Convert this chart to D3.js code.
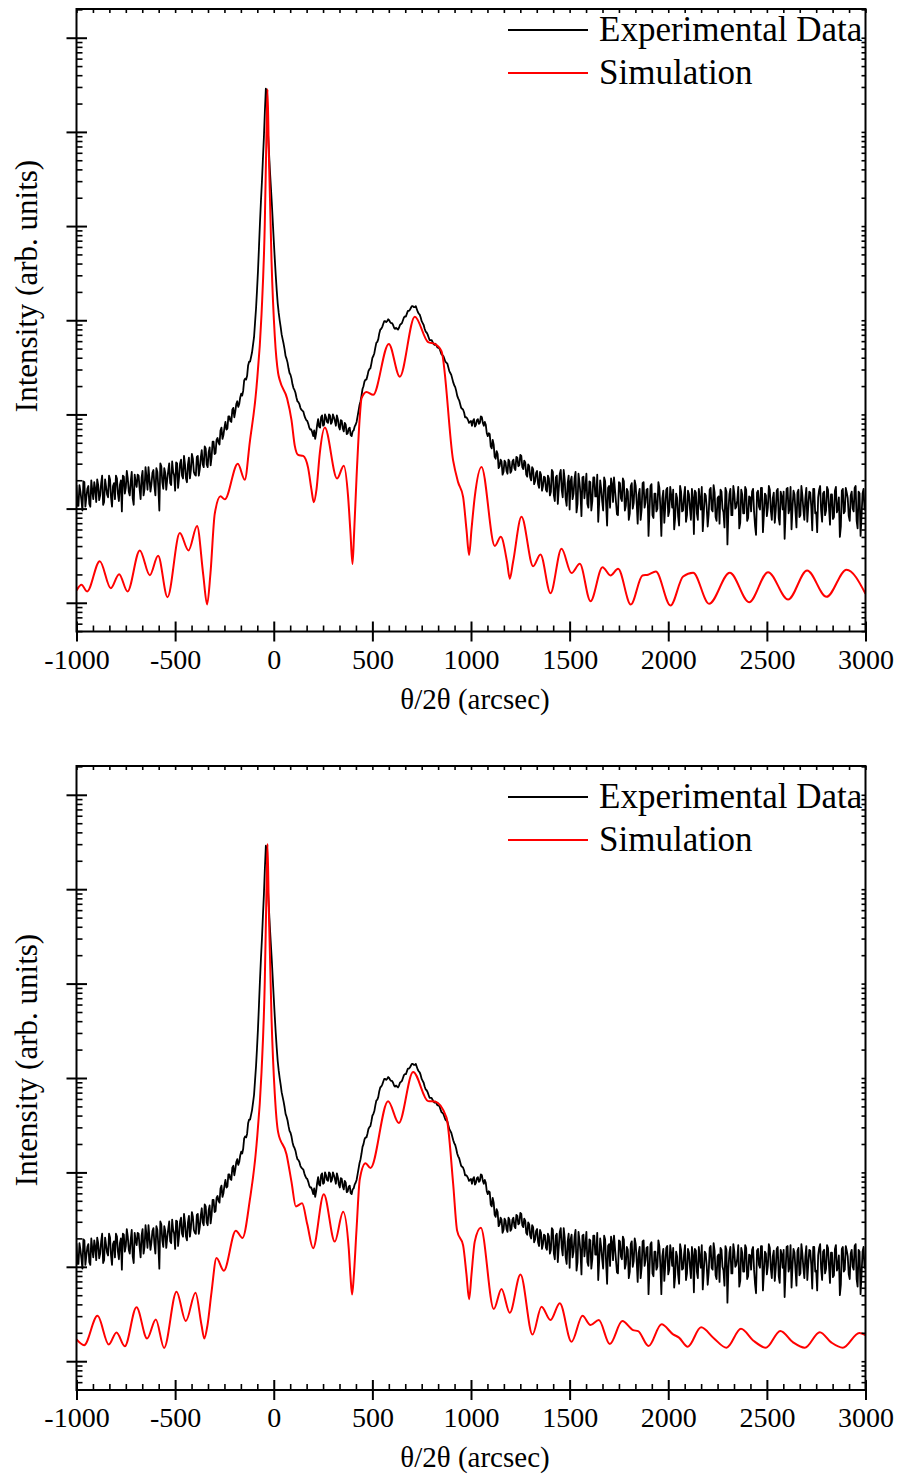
<!DOCTYPE html>
<html>
<head>
<meta charset="utf-8">
<script src="https://cdn.jsdelivr.net/npm/d3@7"></script>
<style>
  body { margin: 0; background: #fff; }
  svg { display: block; }
  text { font-family: "Liberation Serif", "Times New Roman", serif; fill: #000; }
</style>
</head>
<body>
<svg id="chart" width="899" height="1476"></svg>
<script>
// ---------------- data ----------------
const xDomain = [-1000, 3000];
const xMajorTicks = [-1000, -500, 0, 500, 1000, 1500, 2000, 2500, 3000];
const xTickLabels = ["-1000", "-500", "0", "500", "1000", "1500", "2000", "2500", "3000"];
const yDomainLog = [-0.305, 6.305];          // log10(intensity) range shown
const yDecades = [0, 1, 2, 3, 4, 5, 6];
const legendLabels = ["Experimental Data", "Simulation"];
const xTitle = "θ/2θ (arcsec)";
const yTitle = "Intensity (arb. units)";

// experimental data: log10(counts) at -1000, -990, ..., 3000
const expStart = -1000, expStep = 10;
const expLog = [
  1.25,1.03,1.18,0.98,1.28,1.12,1.24,1.02,1.19,1.28,
  1.07,1.25,1.14,1.35,1.07,1.23,1.12,1.31,1.02,1.27,
  1.35,1.16,1.25,0.97,1.34,1.22,1.32,1.14,1.39,1.04,
  1.28,1.36,1.21,1.33,1.14,1.44,1.20,1.31,1.26,1.41,
  1.14,1.39,0.98,1.45,1.21,1.38,1.31,1.48,1.25,1.39,
  1.19,1.48,1.33,1.52,1.32,1.47,1.28,1.54,1.41,1.53,
  1.36,
  1.55,1.35,1.54,1.47,1.66,1.47,1.60,1.46,1.71,1.58,
  1.73,1.70,1.83,1.74,1.86,1.84,1.98,1.93,2.05,1.97,
  2.11,2.08,2.18,2.20,2.36,2.37,2.52,2.56,
  2.66,2.82,3.12,3.52,4.03,4.47,4.94,5.46,5.02,4.61,
  4.25,3.85,3.48,3.18,3.00,2.85,2.75,2.62,2.55,2.44,
  2.38,2.28,2.23,2.14,2.11,2.05,2.03,1.96,1.93,1.86,
  1.84,1.77,
  1.74,1.89,1.87,1.97,1.88,2.00,1.92,2.00,1.90,2.00,
  1.93,1.99,1.87,1.94,1.85,1.91,1.79,1.85,1.78,1.82,
  1.87,1.92,2.04,2.14,2.27,
  2.35,2.37,2.46,2.49,2.60,2.65,2.76,2.80,2.90,2.93,
  2.99,2.98,3.01,2.98,2.97,2.92,2.92,2.90,2.95,2.97,
  3.03,3.04,3.10,3.11,3.15,3.14,3.15,3.09,3.06,2.99,
  2.95,2.88,2.85,2.79,2.79,2.75,2.75,2.71,2.70,2.64,
  2.62,2.56,2.54,2.46,2.42,2.34,2.29,2.20,2.15,2.07,
  2.05,1.97,1.96,1.91,1.93,
  1.93,1.87,1.94,1.90,1.98,1.91,1.92,1.80,1.80,1.66,
  1.73,1.55,1.61,1.43,1.52,1.36,1.51,1.40,1.52,1.38,
  1.50,1.43,1.55,1.45,1.57,1.44,1.51,1.36,1.47,1.33,
  1.44,1.26,1.38,1.26,1.39,1.19,1.34,1.20,1.35,1.14,
  1.41,1.14,1.33,1.05,1.37,1.20,1.41,1.10,1.27,0.99,
  1.34,1.16,1.39,1.05,1.28,0.92,1.34,1.23,1.05,1.29,
  0.98,1.33,1.13,1.36,1.07,1.21,0.98,1.29,0.82,1.24,
  1.32,1.07,1.20,0.94,1.28,1.11,1.32,0.98,1.21,0.88,
  1.24,1.00,1.30,1.06,1.15,0.88,1.27,1.01,1.20,0.71,
  1.24,0.93,1.16,0.97,1.28,1.01,1.11,0.85,1.20,0.92,
  1.23,1.01,0.78,1.16,0.92,1.24,0.97,1.13,0.86,1.19,
  1.00,1.21,0.73,1.17,0.88,1.10,1.23,0.94,1.14,0.81,
  1.20,0.99,1.25,0.91,1.11,0.84,1.18,0.96,1.22,0.62,
  1.15,0.93,1.24,1.00,1.09,0.79,1.20,0.95,1.23,0.87,
  1.13,0.97,1.21,0.82,1.17,1.02,1.22,0.75,1.16,0.92,
  1.24,0.98,1.11,0.85,1.19,0.90,1.18,0.99,0.68,1.21,
  0.95,1.23,1.01,1.15,0.80,1.20,0.93,1.14,0.88,1.22,
  1.03,1.17,0.77,1.21,0.96,1.12,1.24,0.86,1.18,0.98,
  1.20,0.83,1.15,0.91,1.23,1.00,0.70,1.19,0.95,1.22,
  1.11,0.87,1.18,0.97,1.24,0.79,1.16,0.92,1.21,0.99
];
// experimental data: log10(counts) at -995, -985, ..., 2995
const expMidStart = -995;
const expLogMid = [
  1.03,1.25,1.09,1.29,1.02,1.21,1.05,1.30,1.10,1.21,
  1.31,1.09,1.27,1.04,1.31,1.15,1.35,1.12,1.24,1.10,
  1.32,1.08,1.30,1.35,1.16,1.40,1.18,1.29,1.11,1.36,
  1.23,1.35,1.10,1.40,1.21,1.33,1.44,1.18,1.38,1.24,
  1.43,1.22,1.48,1.28,1.43,1.20,1.40,1.27,1.50,1.35,
  1.49,1.22,1.48,1.35,1.56,1.32,1.47,1.32,1.58,1.39,
  1.35,1.56,1.42,1.62,1.44,1.64,1.44,1.65,1.55,1.71,
  1.59,1.75,1.68,1.86,1.78,1.92,1.85,1.98,1.92,2.07,
  2.03,2.14,2.11,2.22,2.25,2.38,2.41,2.56,
  2.61,2.74,2.97,3.31,3.77,4.26,4.71,5.22,5.40,4.82,
  4.43,4.05,3.66,3.32,3.08,2.93,2.80,2.69,2.59,2.49,
  2.42,2.32,2.26,2.18,2.13,2.07,2.04,1.99,1.94,1.90,
  1.84,1.81,
  1.83,1.80,1.95,1.86,1.99,1.89,1.97,1.91,1.99,1.92,
  1.97,1.88,1.95,1.84,1.93,1.82,1.89,1.80,1.86,1.77,
  1.83,1.89,1.98,2.10,2.20,
  2.30,2.37,2.41,2.48,2.54,2.62,2.71,2.77,2.86,2.91,
  2.96,2.99,2.99,3.00,2.97,2.95,2.91,2.91,2.92,2.96,
  3.00,3.04,3.07,3.10,3.13,3.15,3.14,3.12,3.07,3.03,
  2.97,2.91,2.87,2.82,2.79,2.77,2.74,2.73,2.71,2.67,
  2.63,2.59,2.55,2.50,2.44,2.38,2.31,2.25,2.17,2.11,
  2.06,2.02,1.97,1.94,1.92,
  1.88,1.95,1.89,1.95,1.91,1.97,1.88,1.89,1.77,1.79,
  1.64,1.68,1.53,1.58,1.45,1.50,1.39,1.49,1.37,1.50,
  1.40,1.52,1.41,1.54,1.46,1.56,1.42,1.49,1.34,1.45,
  1.30,1.42,1.29,1.40,1.22,1.36,1.24,1.33,1.18,1.32,
  1.18,1.39,1.08,1.35,1.21,1.41,1.12,1.31,1.03,1.35,
  1.29,1.10,1.32,0.96,1.37,1.16,1.33,1.11,1.37,1.01,
  1.28,1.08,1.33,1.13,0.86,1.30,1.08,1.33,1.04,1.22,
  1.01,1.26,1.33,1.07,0.93,1.27,1.08,1.29,1.03,1.18,
  0.95,1.27,1.06,1.24,0.84,1.21,0.99,1.28,1.07,1.21,
  0.98,1.26,0.90,1.16,1.00,1.22,0.71,1.19,1.02,1.22,
  0.97,1.14,1.20,0.90,1.11,0.82,1.18,0.98,1.23,0.93,
  1.15,0.88,1.12,1.19,0.95,1.21,0.99,0.76,1.16,1.01,
  0.94,1.22,0.97,1.17,0.87,1.13,1.20,1.00,0.80,1.18,
  0.98,1.21,0.93,1.16,1.02,1.23,0.85,1.15,0.95,1.20,
  0.90,1.12,1.18,0.97,0.72,1.19,0.99,1.22,0.94,1.14,
  1.01,1.20,0.88,1.17,0.98,1.21,0.83,1.13,1.18,0.96,
  1.22,1.00,0.78,1.19,0.97,1.17,0.91,1.24,0.99,1.11,
  0.86,1.18,1.02,1.21,0.95,0.75,1.20,0.98,1.16,0.93,
  1.23,1.01,1.15,0.89,1.19,0.96,1.12,0.81,1.21,0.97,
  1.17,0.92,1.14,1.00,1.22,0.87,1.18,0.71,1.16,0.99
];

// simulation (top panel): arcsec and log10(counts)
const simTopX = [
  -1000,-974.7,-946.3,-881.9,-826.1,-784.0,-741.4,-679.1,-628.4,-586.3,
  -538.7,-476.3,-432.2,-388.6,-358,-337.9,-321,-299,-269.9,-248.2,
  -182.2,-146.8,-121.4,-87.5,-62.1,-45.4,-36.8,-31.7,-25.1,-11.4,
  5.3,22.1,30.7,67.7,90,106.7,123.4,148.8,174,191,
  203,216.7,233.5,258.8,321.1,355.1,377,389,399.2,407.4,
  419.5,436.3,444.9,470.2,503.7,583.3,639.0,715.1,782.5,816.5,
  850.4,909.3,934.6,959.9,977,990.4,1002.5,1019,1053.2,1120.7,
  1151.1,1183,1196.7,1213,1256.0,1314.8,1352.3,1403.0,1458.8,1509.5,
  1551.6,1605.8,1666.7,1707.2,1745.7,1810.1,1869.4,1897.8,1936.9,2011.4,
  2075.3,2126.0,2207.1,2312.0,2409.9,2506.2,2607.6,2704.0,2802.3,2903.7,
  3000
];
const simTopLog = [
  0.131,0.191,0.120,0.442,0.155,0.304,0.120,0.556,0.293,0.499,
  0.060,0.740,0.556,0.814,0.308,-0.018,0.308,0.946,1.130,1.098,
  1.477,1.307,1.706,2.288,3.058,4.024,4.990,5.454,4.796,3.638,
  2.830,2.440,2.362,2.169,1.940,1.666,1.571,1.559,1.435,1.204,
  1.068,1.204,1.590,1.860,1.319,1.454,1.125,0.740,0.411,0.740,
  1.320,1.976,2.171,2.239,2.208,2.749,2.401,3.038,2.768,2.749,
  2.672,1.512,1.281,1.125,0.779,0.508,0.779,1.125,1.443,0.604,
  0.700,0.430,0.256,0.430,0.913,0.389,0.513,0.102,0.574,0.315,
  0.414,0.017,0.378,0.290,0.361,-0.018,0.290,0.298,0.333,-0.029,
  0.279,0.319,-0.011,0.319,0.006,0.325,0.035,0.343,0.063,0.351,
  0.096
];

// simulation (bottom panel)
const simBotX = [
  -1000,-961.5,-893.5,-836.3,-797.2,-755.1,-695.8,-642.1,-597.9,-555.9,
  -493.0,-445.9,-396.7,-366.3,-352.1,-335.9,-315.6,-290.2,-253.2,-192.4,
  -158.4,-121.4,-87.5,-62.1,-45.4,-36.8,-31.7,-25.1,-11.4,5.3,
  22.1,64.6,90,112,143.7,170,199.5,253.7,309.5,351.6,
  380.4,389,397.2,405.8,419.5,436.3,465.2,490.5,579.7,634,
  706.5,782.5,816.5,875.8,909.3,929.6,960,977,990.4,1002.5,
  1019,1049.7,1115.6,1154.6,1196.7,1250.9,1311.8,1357.4,1403,1450.2,
  1509.5,1565.3,1605.8,1647.9,1703.7,1767.1,1821.8,1847.1,1900.4,1965.8,
  2024.6,2054.5,2099.1,2166.5,2230.9,2295.3,2368.8,2430.2,2495.6,2568.1,
  2633.0,2692.2,2768.3,2827.6,2884.9,2968.5,3000
];
const simBotLog = [
  0.231,0.170,0.481,0.177,0.305,0.159,0.571,0.241,0.443,0.141,
  0.736,0.425,0.726,0.383,0.241,0.383,0.730,1.092,0.958,1.383,
  1.305,1.706,2.288,3.058,4.024,4.990,5.478,4.796,3.638,2.830,
  2.426,2.193,1.900,1.640,1.672,1.450,1.197,1.769,1.267,1.583,
  1.190,0.900,0.706,0.900,1.390,1.930,2.097,2.047,2.755,2.523,
  3.064,2.755,2.750,2.580,1.885,1.383,1.227,0.920,0.656,0.920,
  1.267,1.413,0.552,0.764,0.513,0.918,0.282,0.577,0.436,0.613,
  0.205,0.481,0.383,0.436,0.181,0.425,0.329,0.319,0.160,0.391,
  0.285,0.250,0.154,0.359,0.244,0.143,0.343,0.220,0.143,0.320,
  0.200,0.143,0.308,0.197,0.143,0.300,0.276
];

// ---------------- drawing ----------------
const svg = d3.select("#chart");
const plotLeft = 76.5, plotRight = 865.5;
const panels = [
  { top: 9,   bottom: 631.5, simX: simTopX, simY: simTopLog, titleY: 286,  legendY: 30 },
  { top: 766, bottom: 1390,  simX: simBotX, simY: simBotLog, titleY: 1060, legendY: 797 }
];

const expData = expLog.map((v, i) => ({ x: expStart + i * expStep, y: v }))
  .concat(expLogMid.map((v, i) => ({ x: expMidStart + i * expStep, y: v })))
  .sort((a, b) => a.x - b.x);

// minor ticks
const xMinorStep = 500 / 6;
const xMinor = d3.range(0, 49).map(i => xDomain[0] + i * xMinorStep)
  .filter(v => !xMajorTicks.some(m => Math.abs(m - v) < 1e-6));
const xAllTop = d3.range(0, 49).map(i => xDomain[0] + i * xMinorStep);
const yMinor = [];
for (let d = -1; d <= 6; d++) {
  for (let k = 2; k <= 9; k++) {
    const v = d + Math.log10(k);
    if (v >= yDomainLog[0] && v <= yDomainLog[1]) yMinor.push(v);
  }
}

panels.forEach((p, idx) => {
  const x = d3.scaleLinear().domain(xDomain).range([plotLeft, plotRight]);
  const y = d3.scaleLinear().domain(yDomainLog).range([p.bottom, p.top]);
  const g = svg.append("g");

  const clipId = "clip" + idx;
  svg.append("clipPath").attr("id", clipId).append("rect")
    .attr("x", plotLeft).attr("y", p.top)
    .attr("width", plotRight - plotLeft).attr("height", p.bottom - p.top);

  const data = g.append("g").attr("clip-path", `url(#${clipId})`);

  // experimental (black)
  data.append("path")
    .datum(expData)
    .attr("fill", "none")
    .attr("stroke", "#000")
    .attr("stroke-width", 1.8)
    .attr("stroke-linejoin", "round")
    .attr("d", d3.line().x(d => x(d.x)).y(d => y(d.y)));

  // simulation (red)
  const sim = p.simX.map((v, i) => ({ x: v, y: p.simY[i] }));
  data.append("path")
    .datum(sim)
    .attr("fill", "none")
    .attr("stroke", "#ff0000")
    .attr("stroke-width", 2)
    .attr("d", d3.line().curve(d3.curveMonotoneX).x(d => x(d.x)).y(d => y(d.y)));

  // ----- axes -----
  const axStyle = sel => {
    sel.select(".domain").remove();
    sel.selectAll(".tick line").attr("stroke", "#000").attr("stroke-width", 1.6);
  };

  // bottom major (crossing) with labels
  const bMaj = g.append("g").attr("transform", `translate(0,${p.bottom})`)
    .call(d3.axisBottom(x).tickValues(xMajorTicks).tickSize(10)
      .tickFormat((d, i) => xTickLabels[i]));
  axStyle(bMaj);
  bMaj.selectAll(".tick line").attr("y1", -10).attr("stroke-width", 2);
  bMaj.selectAll(".tick text")
    .attr("y", 37).attr("dy", 0)
    .style("font-size", "28px")
    .style("font-family", '"Liberation Serif", "Times New Roman", serif');

  // bottom minor (inward)
  const bMin = g.append("g").attr("transform", `translate(0,${p.bottom})`)
    .call(d3.axisBottom(x).tickValues(xMinor).tickSize(-6).tickFormat(""));
  axStyle(bMin);

  // top ticks (inward)
  const tAx = g.append("g").attr("transform", `translate(0,${p.top})`)
    .call(d3.axisTop(x).tickValues(xAllTop).tickSize(-4).tickFormat(""));
  axStyle(tAx);

  // left major (crossing)
  const lMaj = g.append("g").attr("transform", `translate(${plotLeft},0)`)
    .call(d3.axisLeft(y).tickValues(yDecades).tickSize(10).tickFormat(""));
  axStyle(lMaj);
  lMaj.selectAll(".tick line").attr("x1", 10.5).attr("stroke-width", 2);

  // left minor (inward)
  const lMin = g.append("g").attr("transform", `translate(${plotLeft},0)`)
    .call(d3.axisLeft(y).tickValues(yMinor).tickSize(-6).tickFormat(""));
  axStyle(lMin);

  // right ticks (inward)
  const rAx = g.append("g").attr("transform", `translate(${plotRight},0)`)
    .call(d3.axisRight(y).tickValues(yDecades.concat(yMinor)).tickSize(-4).tickFormat(""));
  axStyle(rAx);

  // frame
  g.append("rect")
    .attr("x", plotLeft).attr("y", p.top)
    .attr("width", plotRight - plotLeft).attr("height", p.bottom - p.top)
    .attr("fill", "none").attr("stroke", "#000").attr("stroke-width", 2);

  // axis titles
  g.append("text")
    .attr("x", 475)
    .attr("y", p.bottom + 77)
    .attr("text-anchor", "middle")
    .style("font-size", "29px")
    .text(xTitle);

  g.append("text")
    .attr("transform", `translate(37,${p.titleY}) rotate(-90)`)
    .attr("text-anchor", "middle")
    .style("font-size", "31px")
    .text(yTitle);

  // legend
  const legColors = ["#000", "#ff0000"];
  legendLabels.forEach((lab, i) => {
    const ly = p.legendY + i * 43;
    g.append("line")
      .attr("x1", 508).attr("x2", 588).attr("y1", ly).attr("y2", ly)
      .attr("stroke", legColors[i]).attr("stroke-width", 1.8);
    g.append("text")
      .attr("x", 599).attr("y", ly + 11)
      .style("font-size", "35px")
      .text(lab);
  });
});
</script>
</body>
</html>
